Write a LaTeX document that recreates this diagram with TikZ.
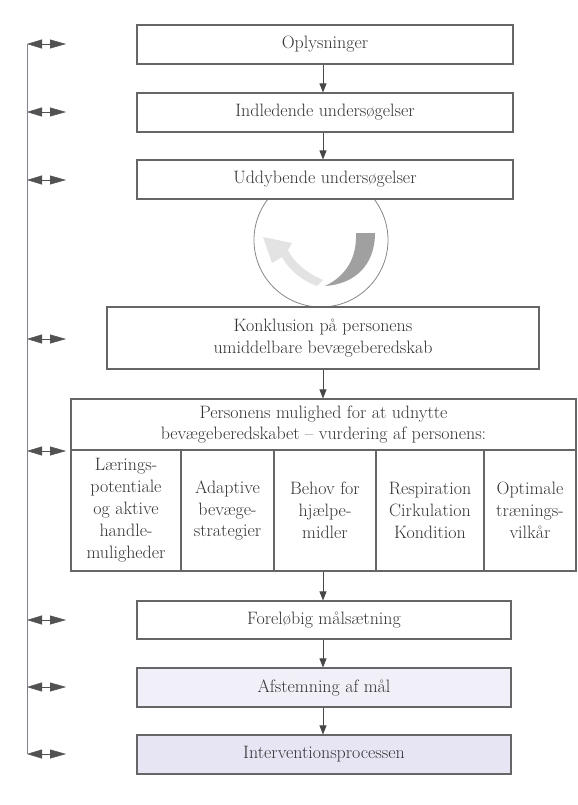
\documentclass[tikz,border=0pt]{standalone}
\usetikzlibrary{arrows.meta}
\definecolor{frame}{HTML}{666666}
\definecolor{txt}{HTML}{333333}
\definecolor{lavA}{HTML}{F1F0F8}
\definecolor{lavB}{HTML}{E7E5F4}
\definecolor{leftline}{HTML}{857F95}
\definecolor{cyclight}{HTML}{E3E3E3}
\definecolor{cycdark}{HTML}{A0A0A0}
\begin{document}
\begin{tikzpicture}[x=1bp,y=-1bp,
  box/.style={draw=frame, line width=1.1pt, fill=white, text=txt,
    font=\fontsize{18}{22}\selectfont, align=center, inner sep=0pt},
  flow/.style={-{Triangle[length=9bp,width=7bp]}, draw=frame!70!black, line width=0.8pt},
  side/.style={{Triangle[length=15bp,width=9bp]}-{Triangle[length=16bp,width=9bp]}, draw=frame!80!black, line width=0.5pt}]
\useasboundingbox (0,0) rectangle (578,805);

% cycle symbol (behind boxes)
\node[circle, draw=frame!80, line width=0.8pt, minimum size=134bp, inner sep=0pt] (cyc) at (321,240) {};
\fill[cyclight] (317,286) .. controls (300,280) and (288,268) .. (282,257)
  -- (272,263) -- (263,237) -- (292,243) -- (288,250)
  .. controls (294,262) and (305,272) .. (323,280) -- cycle;
\fill[cycdark] (356,233) -- (375,233) .. controls (375,265) and (355,284) .. (325,286)
  .. controls (346,276) and (357,258) .. cycle;

% boxes
\node[box, minimum width=376bp, minimum height=39bp] (n1) at (325,44.5) {Oplysninger};
\node[box, minimum width=376bp, minimum height=39bp] (n2) at (325,112.5) {Indledende undersøgelser};
\node[box, minimum width=376bp, minimum height=39bp] (n3) at (325,179.5) {Uddybende undersøgelser};
\node[box, minimum width=432bp, minimum height=62bp] (n4) at (323,338) {Konklusion på personens\\umiddelbare bevægeberedskab};
\node[box, minimum width=505bp, minimum height=51bp] (hd) at (323.5,424.5) {Personens mulighed for at udnytte\\bevægeberedskabet -- vurdering af personens:};
\node[box, minimum width=110bp, minimum height=121bp] (c1) at (126,510.5) {Lærings-\\potentiale\\og aktive\\handle-\\muligheder};
\node[box, minimum width=93bp, minimum height=121bp] (c2) at (227.5,510.5) {Adaptive\\bevæge-\\strategier};
\node[box, minimum width=102bp, minimum height=121bp] (c3) at (325,510.5) {Behov for\\hjælpe-\\midler};
\node[box, minimum width=108bp, minimum height=121bp] (c4) at (430,510.5) {Respiration\\Cirkulation\\Kondition};
\node[box, minimum width=92bp, minimum height=121bp] (c5) at (530,510.5) {Optimale\\trænings-\\vilkår};
\node[box, minimum width=374bp, minimum height=38bp] (n6) at (324,620) {Foreløbig målsætning};
\node[box, fill=lavA, minimum width=374bp, minimum height=39bp] (n7) at (324,687.5) {Afstemning af mål};
\node[box, fill=lavB, minimum width=374bp, minimum height=39bp] (n8) at (324,754.5) {Interventionsprocessen};

% flow arrows
\draw[flow] (n1.south -| 323,0) -- (n2.north -| 323,0);
\draw[flow] (n2.south -| 323,0) -- (n3.north -| 323,0);
\draw[flow] (n4.south -| 323,0) -- (hd.north -| 323,0);
\draw[flow] (c3.south -| 323,0) -- (n6.north -| 323,0);
\draw[flow] (n6.south -| 323,0) -- (n7.north -| 323,0);
\draw[flow] (n7.south -| 323,0) -- (n8.north -| 323,0);

% side arrows and left bracket
\foreach \nm/\yy in {a/44, b/112, c/180, d/339, e/451, f/620, g/687, h/754}{
  \coordinate (L\nm) at (27,\yy);
  \coordinate (R\nm) at (66,\yy);
  \draw[side] (L\nm) -- (R\nm);
}
\draw[leftline, line width=1pt] (La) -- (Lh);
\end{tikzpicture}
\end{document}
